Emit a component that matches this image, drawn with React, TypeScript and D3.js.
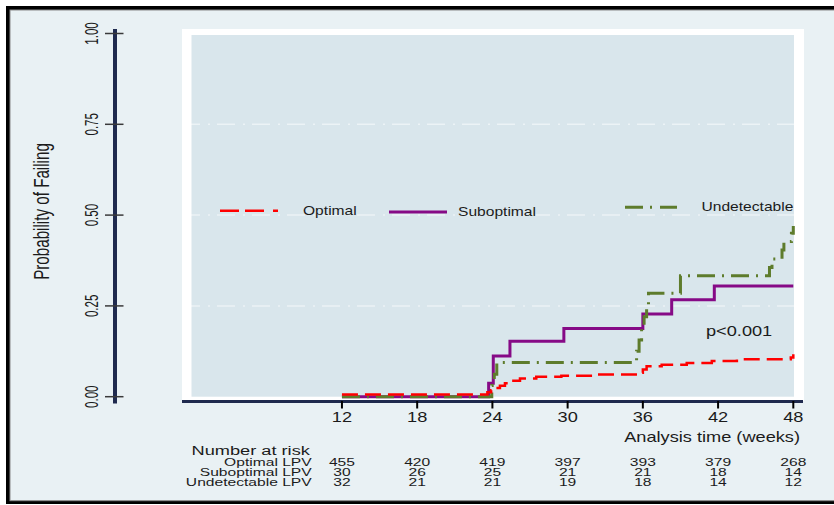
import React from 'react';
import * as d3 from 'd3';

// Kaplan-Meier style failure curves
const weeks = [12, 18, 24, 30, 36, 42, 48];
const yTicks = [0, 0.25, 0.5, 0.75, 1];
const gridTicks = [0.25, 0.5, 0.75];

const optimalTime = [12, 23.6, 23.9, 24.2, 24.6, 25.0, 25.5, 26.2, 27.5, 29.5, 32, 35.7, 36.0, 36.3, 37.5, 39.5, 41.5, 43.5, 47.8, 48];
const optimalProb = [0.006, 0.012, 0.018, 0.024, 0.03, 0.037, 0.044, 0.05, 0.055, 0.058, 0.061, 0.066, 0.075, 0.084, 0.088, 0.093, 0.098, 0.103, 0.108, 0.117];

const suboptimalTime = [12, 23.7, 24.07, 25.4, 29.7, 36.0, 38.3, 41.7, 48];
const suboptimalProb = [0, 0.037, 0.112, 0.153, 0.188, 0.228, 0.267, 0.305, 0.305];

const undetectTime = [12, 23.95, 24.15, 24.35, 35.5, 35.7, 35.9, 36.1, 36.3, 36.45, 39.0, 46.1, 46.3, 47.1, 47.25, 47.85, 48];
const undetectProb = [0, 0.031, 0.062, 0.094, 0.125, 0.156, 0.19, 0.22, 0.25, 0.285, 0.333, 0.356, 0.379, 0.404, 0.427, 0.45, 0.47];

const riskLabels = ['Optimal LPV', 'Suboptimal LPV', 'Undetectable LPV'];
const riskOptimal = [455, 420, 419, 397, 393, 379, 268];
const riskSuboptimal = [30, 26, 25, 21, 21, 18, 14];
const riskUndetectable = [32, 21, 21, 19, 18, 14, 12];

const RED = '#ff0000';
const PURPLE = '#860a86';
const GREEN = '#5e7c2c';
const NAVY = '#1f2a4e';
const FONT = 'Liberation Sans, Arial, sans-serif';

const x = d3.scaleLinear().domain([0, 48]).range([191.5, 793.3]);
const y = d3.scaleLinear().domain([0, 1]).range([396.7, 33.5]);

const stepLine = d3
  .line<[number, number]>()
  .x(d => x(d[0]))
  .y(d => y(d[1]))
  .curve(d3.curveStepAfter);

const zip = (t: number[], p: number[]) => t.map((v, i) => [v, p[i]] as [number, number]);

// horizontal text, stretched a bit wider like the original export
const HText = ({ x: tx, y: ty, anchor = 'start', size = 14, sx = 1.3, children }: any) => (
  <text
    transform={`translate(${tx},${ty}) scale(${sx},1)`}
    textAnchor={anchor}
    fontSize={size}
    fontFamily={FONT}
    fill="#1b1b1b"
  >
    {children}
  </text>
);

// vertical text, narrow and tall
const VText = ({ x: tx, y: ty, size, sy, children }: any) => (
  <text
    transform={`translate(${tx},${ty}) rotate(-90) scale(1,${sy})`}
    textAnchor="middle"
    dominantBaseline="central"
    fontSize={size}
    fontFamily={FONT}
    fill="#1b1b1b"
  >
    {children}
  </text>
);

export default function App() {
  const riskRows = [riskOptimal, riskSuboptimal, riskUndetectable];
  const rowBase = [465.5, 475.5, 485.5];

  return (
    <svg width={834} height={505} style={{ position: 'absolute', left: 0, top: 0, background: '#fff' }}>
      {/* outer frame */}
      <rect x={6} y={6} width={840} height={498} fill="#000" />
      <rect x={10} y={10} width={836} height={490.7} fill="#e9f1f4" stroke="#8a8a8a" strokeWidth={1} />

      {/* plot region */}
      <rect x={182} y={29} width={622} height={372} fill="#fff" />
      <rect x={191.5} y={35} width={602.5} height={361.7} fill="#d9e6ec" />

      {/* grid */}
      {gridTicks.map(t => (
        <line
          key={t}
          x1={182}
          x2={804}
          y1={y(t)}
          y2={y(t)}
          stroke="#fff"
          strokeOpacity={0.5}
          strokeWidth={1.5}
          strokeDasharray="18,8,2,7"
        />
      ))}

      {/* y axis */}
      <line x1={115} x2={115} y1={29} y2={403.5} stroke={NAVY} strokeWidth={4} />
      {yTicks.map(t => (
        <g key={t}>
          <line x1={105} x2={123.5} y1={y(t)} y2={y(t)} stroke="#3a3a3a" strokeWidth={1.5} />
          <VText x={91} y={y(t)} size={11.5} sy={1.6}>
            {t.toFixed(2)}
          </VText>
        </g>
      ))}
      <VText x={41} y={211.5} size={15.2} sy={1.5}>
        Probability of Failing
      </VText>

      {/* x axis */}
      <line x1={182} x2={803} y1={401.5} y2={401.5} stroke={NAVY} strokeWidth={3} />
      {weeks.map(w => (
        <g key={w}>
          <line x1={x(w)} x2={x(w)} y1={401} y2={408.5} stroke="#000" strokeWidth={2} />
          <HText x={x(w)} y={421.7} anchor="middle" size={14}>
            {w}
          </HText>
        </g>
      ))}
      <HText x={800} y={442} anchor="end" size={14}>
        Analysis time (weeks)
      </HText>

      {/* curves */}
      <path d={stepLine(zip(suboptimalTime, suboptimalProb)) || ''} fill="none" stroke={PURPLE} strokeWidth={3} />
      <path
        d={stepLine(zip(undetectTime, undetectProb)) || ''}
        fill="none"
        stroke={GREEN}
        strokeWidth={3}
        strokeDasharray="18,7,2,7"
      />
      <path
        d={stepLine(zip(optimalTime, optimalProb)) || ''}
        fill="none"
        stroke={RED}
        strokeWidth={2.5}
        strokeDasharray="16,7"
      />

      {/* legend */}
      <line x1={220} x2={278} y1={210.7} y2={210.7} stroke={RED} strokeWidth={2.5} strokeDasharray="19,6,19,9,5,100" />
      <HText x={303} y={214.5} size={12}>Optimal</HText>
      <line x1={389} x2={447} y1={212} y2={212} stroke={PURPLE} strokeWidth={3} />
      <HText x={458} y={215.5} size={12}>Suboptimal</HText>
      <line x1={625} x2={677} y1={207.3} y2={207.3} stroke={GREEN} strokeWidth={3} strokeDasharray="18,7,2,8,18" />
      <HText x={701.5} y={210.7} size={12}>Undetectable</HText>

      <HText x={706} y={336} size={14}>p&lt;0.001</HText>

      {/* number at risk table */}
      <HText x={191.5} y={455} size={13.5} sx={1.35}>Number at risk</HText>
      {riskLabels.map((lab, i) => (
        <g key={lab}>
          <HText x={311.7} y={rowBase[i]} anchor="end" size={11} sx={1.42}>
            {lab}
          </HText>
          {riskRows[i].map((n, j) => (
            <HText key={j} x={x(weeks[j])} y={rowBase[i]} anchor="middle" size={11} sx={1.42}>
              {n}
            </HText>
          ))}
        </g>
      ))}
    </svg>
  );
}
